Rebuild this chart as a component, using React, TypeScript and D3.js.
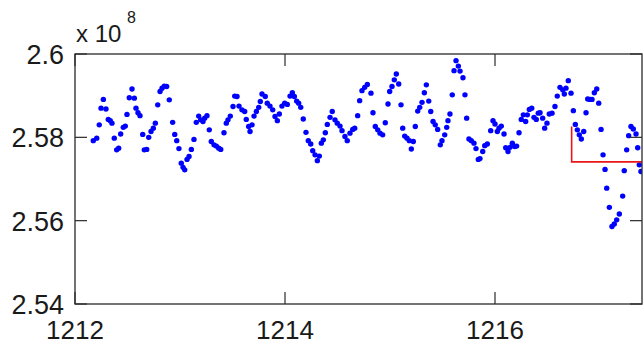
import React from "react";
import * as d3 from "d3";

// Sample times (day number) and measured values (in units of 1e8)
const times: number[] = [
  1212.174, 1212.207, 1212.231, 1212.248, 1212.27, 1212.295, 1212.317, 1212.336, 1212.352, 1212.374,
  1212.397, 1212.416, 1212.435, 1212.46, 1212.479, 1212.495, 1212.517, 1212.543, 1212.565, 1212.581,
  1212.6, 1212.619, 1212.645, 1212.66, 1212.683, 1212.702, 1212.724, 1212.746, 1212.765, 1212.788,
  1212.81, 1212.829, 1212.85, 1212.873, 1212.898, 1212.93, 1212.95, 1212.969, 1212.99, 1213.012,
  1213.029, 1213.045, 1213.067, 1213.086, 1213.108, 1213.133, 1213.155, 1213.178, 1213.197, 1213.219,
  1213.235, 1213.257, 1213.279, 1213.298, 1213.324, 1213.346, 1213.369, 1213.388, 1213.419, 1213.441,
  1213.457, 1213.479, 1213.505, 1213.521, 1213.543, 1213.562, 1213.59, 1213.616, 1213.631, 1213.654,
  1213.667, 1213.686, 1213.705, 1213.727, 1213.75, 1213.765, 1213.781, 1213.812, 1213.831, 1213.857,
  1213.883, 1213.905, 1213.927, 1213.946, 1213.971, 1213.997, 1214.022, 1214.048, 1214.07, 1214.089,
  1214.111, 1214.13, 1214.15, 1214.174, 1214.2, 1214.222, 1214.245, 1214.264, 1214.286, 1214.308,
  1214.327, 1214.346, 1214.365, 1214.384, 1214.403, 1214.429, 1214.45, 1214.476, 1214.498, 1214.524,
  1214.543, 1214.571, 1214.593, 1214.619, 1214.645, 1214.664, 1214.692, 1214.711, 1214.733, 1214.759,
  1214.784, 1214.819, 1214.838, 1214.86, 1214.883, 1214.905, 1214.93, 1214.955, 1214.981, 1214.997,
  1215.019, 1215.041, 1215.06, 1215.083, 1215.105, 1215.121, 1215.14, 1215.162, 1215.184, 1215.203,
  1215.222, 1215.241, 1215.264, 1215.283, 1215.305, 1215.327, 1215.346, 1215.369, 1215.388, 1215.41,
  1215.431, 1215.454, 1215.479, 1215.495, 1215.521, 1215.54, 1215.552, 1215.571, 1215.593, 1215.61,
  1215.629, 1215.651, 1215.667, 1215.695, 1215.714, 1215.73, 1215.752, 1215.774, 1215.8, 1215.819,
  1215.841, 1215.857, 1215.883, 1215.902, 1215.927, 1215.959, 1215.981, 1216.0, 1216.022, 1216.038,
  1216.06, 1216.086, 1216.102, 1216.124, 1216.143, 1216.165, 1216.188, 1216.206, 1216.229, 1216.25,
  1216.27, 1216.292, 1216.308, 1216.327, 1216.35, 1216.371, 1216.393, 1216.412, 1216.429, 1216.454,
  1216.473, 1216.495, 1216.517, 1216.543, 1216.571, 1216.593, 1216.619, 1216.645, 1216.66, 1216.676,
  1216.698, 1216.724, 1216.746, 1216.765, 1216.784, 1216.803, 1216.822, 1216.845, 1216.867, 1216.883,
  1216.905, 1216.924, 1216.946, 1216.969, 1216.988, 1217.01, 1217.029, 1217.048, 1217.064, 1217.089,
  1217.114, 1217.136, 1217.159, 1217.184, 1217.216, 1217.231, 1217.254, 1217.273, 1217.295, 1217.317,
  1217.343, 1217.359, 1217.374, 1217.39,
];

const values: number[] = [
  2.5792, 2.5798, 2.583, 2.587, 2.5891, 2.5868, 2.5843, 2.584, 2.5834, 2.5798,
  2.577, 2.5774, 2.5808, 2.5824, 2.5827, 2.5855, 2.5895, 2.5916, 2.5894, 2.587,
  2.5859, 2.5852, 2.5807, 2.577, 2.5771, 2.58, 2.5814, 2.5822, 2.5834, 2.5878,
  2.591, 2.5918, 2.5923, 2.5922, 2.589, 2.5836, 2.5807, 2.5792, 2.5773, 2.5738,
  2.5728, 2.5722, 2.5747, 2.5754, 2.5771, 2.5795, 2.5836, 2.5851, 2.5842, 2.5838,
  2.5846, 2.5852, 2.5818, 2.579, 2.5782, 2.5779, 2.5774, 2.5771, 2.5811, 2.5834,
  2.5842, 2.5851, 2.5874, 2.5899, 2.5898, 2.5875, 2.5866, 2.5862, 2.5843, 2.5826,
  2.5814, 2.583, 2.5851, 2.5862, 2.5872, 2.5886, 2.5904, 2.5898, 2.5882, 2.5875,
  2.5866, 2.585, 2.584, 2.5856, 2.5875, 2.5882, 2.5879, 2.5899, 2.5907, 2.5898,
  2.5887, 2.5882, 2.5872, 2.5844, 2.5812, 2.5792, 2.5784, 2.5768, 2.5758, 2.5744,
  2.5755, 2.5786, 2.5794, 2.5811, 2.5831, 2.5848, 2.5862, 2.5842, 2.5834, 2.5827,
  2.5816, 2.5802, 2.5792, 2.581, 2.5819, 2.5822, 2.5852, 2.5888, 2.5912, 2.592,
  2.5927, 2.5906, 2.5859, 2.5826, 2.5818, 2.581, 2.5806, 2.5835, 2.588, 2.591,
  2.5922, 2.5938, 2.5952, 2.5928, 2.5878, 2.5822, 2.5803, 2.5798, 2.5792, 2.5772,
  2.579, 2.5826, 2.5863, 2.5872, 2.5884, 2.5907, 2.5926, 2.5887, 2.5862, 2.5838,
  2.583, 2.5819, 2.5782, 2.5792, 2.5806, 2.5824, 2.584, 2.5856, 2.5902, 2.596,
  2.5984, 2.5971, 2.5959, 2.5943, 2.5902, 2.5846, 2.5796, 2.5792, 2.5786, 2.5773,
  2.5747, 2.5749, 2.5766, 2.578, 2.5784, 2.5816, 2.584, 2.5832, 2.5814, 2.5822,
  2.5827, 2.5808, 2.5775, 2.5766, 2.5776, 2.5786, 2.5778, 2.5779, 2.5811, 2.5843,
  2.5854, 2.5838, 2.5854, 2.5867, 2.587, 2.5848, 2.5843, 2.5858, 2.5859, 2.5846,
  2.5822, 2.5834, 2.5856, 2.5858, 2.5874, 2.5899, 2.592, 2.5914, 2.5904, 2.5918,
  2.5936, 2.5906, 2.5864, 2.5831, 2.5818, 2.5806, 2.5796, 2.5814, 2.5859, 2.5892,
  2.5891, 2.5891, 2.5907, 2.5916, 2.5882, 2.5819, 2.5758, 2.5723, 2.5678, 2.5632,
  2.5586, 2.5592, 2.5602, 2.5616, 2.5659, 2.572, 2.577, 2.5804, 2.5826, 2.582,
  2.5808, 2.5775, 2.5734, 2.5718,
];

// Red step marker: drops at the change time, then holds the new level
const stepTimes: number[] = [1216.73, 1216.73, 1217.6];
const stepValues: number[] = [2.5826, 2.5741, 2.5741];

const xTicks: number[] = [1212, 1214, 1216];
const yTicks: number[] = [2.54, 2.56, 2.58, 2.6];
const yTickLabels: string[] = ["2.54", "2.56", "2.58", "2.6"];

const W = 644;
const H = 344;
const left = 75;
const right = 642;
const top = 54;
const bottom = 304;
const tickLen = 12;
const font = "'Liberation Sans', Arial, Helvetica, sans-serif";
const axisColor = "#2a2a2a";

export default function App() {
  const x = d3.scaleLinear().domain([1212, 1217.4]).range([left, right]);
  const y = d3.scaleLinear().domain([2.54, 2.6]).range([bottom, top]);

  const pts = times.map((t, i) => [t, values[i]] as [number, number]);
  const step = d3
    .line<[number, number]>()
    .x((d) => x(d[0]))
    .y((d) => y(d[1]))(stepTimes.map((t, i) => [t, stepValues[i]]));

  return (
    <svg
      width={W}
      height={H}
      style={{ position: "absolute", left: 0, top: 0, background: "#fff" }}
    >
      <defs>
        <clipPath id="plotArea">
          <rect x={left} y={top} width={right - left} height={bottom - top} />
        </clipPath>
      </defs>

      <g clipPath="url(#plotArea)">
        {pts.map((d, i) => (
          <circle key={i} cx={x(d[0])} cy={y(d[1])} r={2.7} fill="#0000ff" />
        ))}
        <path d={step ?? ""} fill="none" stroke="#e8161b" strokeWidth={1.6} />
      </g>

      {/* axes box */}
      <rect
        x={left}
        y={top}
        width={right - left}
        height={bottom - top}
        fill="none"
        stroke={axisColor}
        strokeWidth={1.3}
      />

      {/* x ticks (inward, top and bottom) */}
      {xTicks.map((t) => (
        <g key={t}>
          <line x1={x(t)} x2={x(t)} y1={bottom} y2={bottom - tickLen} stroke={axisColor} strokeWidth={1.2} />
          <line x1={x(t)} x2={x(t)} y1={top} y2={top + tickLen} stroke={axisColor} strokeWidth={1.2} />
          <text
            x={x(t)}
            y={339}
            textAnchor="middle"
            fontFamily={font}
            fontSize={26}
            fill="#1a1a1a"
          >
            {String(t)}
          </text>
        </g>
      ))}

      {/* y ticks (inward, left and right) */}
      {yTicks.map((v, i) => (
        <g key={v}>
          <line x1={left} x2={left + tickLen} y1={y(v)} y2={y(v)} stroke={axisColor} strokeWidth={1.2} />
          <line x1={right} x2={right - tickLen} y1={y(v)} y2={y(v)} stroke={axisColor} strokeWidth={1.2} />
          <text
            x={64}
            y={y(v) + 10}
            textAnchor="end"
            fontFamily={font}
            fontSize={27}
            fill="#1a1a1a"
          >
            {yTickLabels[i]}
          </text>
        </g>
      ))}

      {/* exponent label */}
      <text x={76} y={42} fontFamily={font} fontSize={24} fill="#1a1a1a">
        x 10
      </text>
      <text x={127} y={23} fontFamily={font} fontSize={16} fill="#1a1a1a">
        8
      </text>
    </svg>
  );
}
